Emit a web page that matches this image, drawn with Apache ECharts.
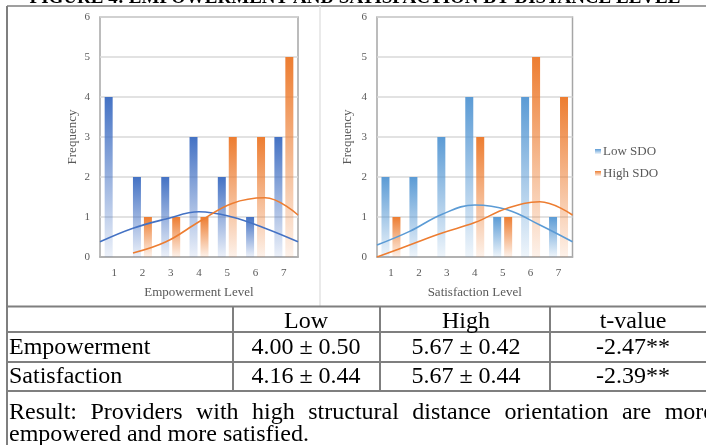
<!DOCTYPE html>
<html>
<head>
<meta charset="utf-8">
<script src="https://cdn.jsdelivr.net/npm/echarts@6/dist/echarts.min.js"></script>
<style>
html, body { margin: 0; padding: 0; background: #fff; }
#chart { width: 706px; height: 445px; }
</style>
</head>
<body>
<div id="chart"></div>
<script>
// data
const levels = ["1", "2", "3", "4", "5", "6", "7"];
const empLow = [4, 2, 2, 3, 2, 1, 3];
const empHigh = [0, 1, 1, 1, 3, 3, 5];
const satLow = [2, 2, 3, 4, 1, 4, 1];
const satHigh = [1, 0, 0, 3, 1, 5, 4];
// fitted curves, one point per level spread over the whole plot width
const empLowCurve = [0.38, 0.72, 0.95, 1.13, 1.0, 0.72, 0.38];
const empHighCurve = [null, 0.1, 0.38, 0.88, 1.34, 1.48, 1.05];
const satLowCurve = [0.3, 0.64, 1.07, 1.3, 1.18, 0.8, 0.38];
const satHighCurve = [0, 0.3, 0.6, 0.86, 1.22, 1.38, 1.05];
const freqMax = 6;

const tableHead = ["Low", "High", "t-value"];
const tableRowNames = ["Empowerment", "Satisfaction"];
const lowCells = ["4.00 ± 0.50", "4.16 ± 0.44"];
const highCells = ["5.67 ± 0.42", "5.67 ± 0.44"];
const tCells = ["-2.47**", "-2.39**"];
const resultLine1 = "Result: Providers with high structural distance orientation are more";
const resultLine2 = "empowered and more satisfied.";
const title = "FIGURE 4: EMPOWERMENT AND SATISFACTION BY DISTANCE LEVEL";

const serif = '"Liberation Serif", "Times New Roman", serif';
const gray = "#595959";
const blueDark = "#4472C4";
const blueLight = "#5B9BD5";
const orange = "#ED7D31";

const chart = echarts.init(document.getElementById("chart"));

// bars fade out toward the bottom
const fade = (c) =>
  new echarts.graphic.LinearGradient(0, 0, 0, 1, [
    { offset: 0, color: c },
    { offset: 1, color: echarts.color.modifyAlpha(c, 0.1) },
  ]);

const barAxis = (grid, name) => ({
  gridIndex: grid,
  type: "category",
  data: levels,
  axisLine: { lineStyle: { color: "#a6a6a6", width: 1.5 } },
  axisTick: { show: false },
  axisLabel: { color: gray, fontFamily: serif, fontSize: 11, margin: 11 },
  name: name,
  nameLocation: "middle",
  nameGap: 29,
  nameTextStyle: { color: gray, fontFamily: serif, fontSize: 13 },
});

const lineAxis = (grid) => ({
  gridIndex: grid,
  type: "category",
  data: levels,
  boundaryGap: false,
  show: false,
});

const freqAxis = (grid, gap) => ({
  gridIndex: grid,
  type: "value",
  min: 0,
  max: freqMax,
  interval: 1,
  axisLine: { show: false },
  axisTick: { show: false },
  splitLine: { lineStyle: { color: "#d9d9d9", width: 1.5 } },
  axisLabel: { color: gray, fontFamily: serif, fontSize: 11, margin: 10 },
  name: "Frequency",
  nameLocation: "middle",
  nameGap: gap,
  nameTextStyle: { color: gray, fontFamily: serif, fontSize: 13 },
});

const bars = (name, data, color, xi, yi) => ({
  name: name,
  type: "bar",
  xAxisIndex: xi,
  yAxisIndex: yi,
  data: data,
  barWidth: 8,
  barGap: "37%",
  itemStyle: { color: fade(color) },
  silent: true,
});

const curve = (name, data, color, xi, yi) => ({
  name: name,
  type: "line",
  xAxisIndex: xi,
  yAxisIndex: yi,
  data: data,
  smooth: 0.4,
  showSymbol: false,
  lineStyle: { color: color, width: 1.6 },
  itemStyle: { color: color },
  silent: true,
});

// graphic: frame, table and text
const lineEl = (x1, y1, x2, y2, color, w) => ({
  type: "line",
  shape: { x1, y1, x2, y2 },
  style: { stroke: color, lineWidth: w },
  silent: true,
});
const textEl = (x, y, text, align, font) => ({
  type: "text",
  x: x,
  y: y,
  style: {
    text: text,
    fill: "#000",
    font: font || "24px " + serif,
    textAlign: align || "center",
    textVerticalAlign: "middle",
  },
  silent: true,
});

function justify(text, x0, x1, y, font) {
  const ctx = document.createElement("canvas").getContext("2d");
  ctx.font = font;
  const words = text.split(" ");
  const widths = words.map((w) => ctx.measureText(w).width);
  const used = widths.reduce((a, b) => a + b, 0);
  const gap = (x1 - x0 - used) / (words.length - 1);
  let x = x0;
  return words.map((w, i) => {
    const el = textEl(x, y, w, "left", font);
    x += widths[i] + gap;
    return el;
  });
}

const tableFont = "24px " + serif;
const frame = "#7f7f7f";
const graphics = [
  textEl(355, -2, title, "center", "bold 19px " + serif),
  lineEl(7, 6, 706, 6, frame, 1.5),
  lineEl(7, 6, 7, 445, frame, 2),
  lineEl(320, 6, 320, 306, "#e3e3e3", 1.5),
  lineEl(7, 306.5, 706, 306.5, frame, 2),
  lineEl(7, 332, 706, 332, frame, 2),
  lineEl(7, 362, 706, 362, frame, 2),
  lineEl(7, 391, 706, 391, frame, 2),
  lineEl(233, 306.5, 233, 391, frame, 2),
  lineEl(380, 306.5, 380, 391, frame, 2),
  lineEl(550, 306.5, 550, 391, frame, 2),
  textEl(306, 322, tableHead[0]),
  textEl(466, 322, tableHead[1]),
  textEl(633, 322, tableHead[2]),
];
const rowY = [348, 377];
tableRowNames.forEach((n, i) => {
  graphics.push(textEl(9, rowY[i], n, "left"));
  graphics.push(textEl(306, rowY[i], lowCells[i]));
  graphics.push(textEl(466, rowY[i], highCells[i]));
  graphics.push(textEl(633, rowY[i], tCells[i]));
});
graphics.push(...justify(resultLine1, 9, 714, 413, tableFont));
graphics.push(textEl(9, 435, resultLine2, "left"));

chart.setOption({
  backgroundColor: "#fff",
  animation: false,
  textStyle: { fontFamily: serif },
  grid: [
    { left: 100, top: 17, width: 198, height: 240, show: true, borderColor: "#a6a6a6", borderWidth: 1.5 },
    { left: 377, top: 17, width: 195.5, height: 240, show: true, borderColor: "#a6a6a6", borderWidth: 1.5 },
  ],
  legend: {
    data: ["Low SDO", "High SDO"],
    orient: "vertical",
    left: 590,
    top: 140,
    itemWidth: 6,
    itemHeight: 5,
    itemGap: 9,
    icon: "rect",
    textStyle: { color: gray, fontFamily: serif, fontSize: 13, padding: [0, 0, 0, -3] },
    selectedMode: false,
  },
  xAxis: [
    barAxis(0, "Empowerment Level"),
    lineAxis(0),
    barAxis(1, "Satisfaction Level"),
    lineAxis(1),
  ],
  yAxis: [freqAxis(0, 21), freqAxis(1, 23)],
  series: [
    bars("Low SDO", satLow, blueLight, 2, 1),
    bars("High SDO", satHigh, orange, 2, 1),
    curve("Low SDO curve", satLowCurve, blueLight, 3, 1),
    curve("High SDO curve", satHighCurve, orange, 3, 1),
    bars("Low (empowerment)", empLow, blueDark, 0, 0),
    bars("High (empowerment)", empHigh, orange, 0, 0),
    curve("Low empowerment curve", empLowCurve, blueDark, 1, 0),
    curve("High empowerment curve", empHighCurve, orange, 1, 0),
  ],
  graphic: graphics,
});
</script>
</body>
</html>
